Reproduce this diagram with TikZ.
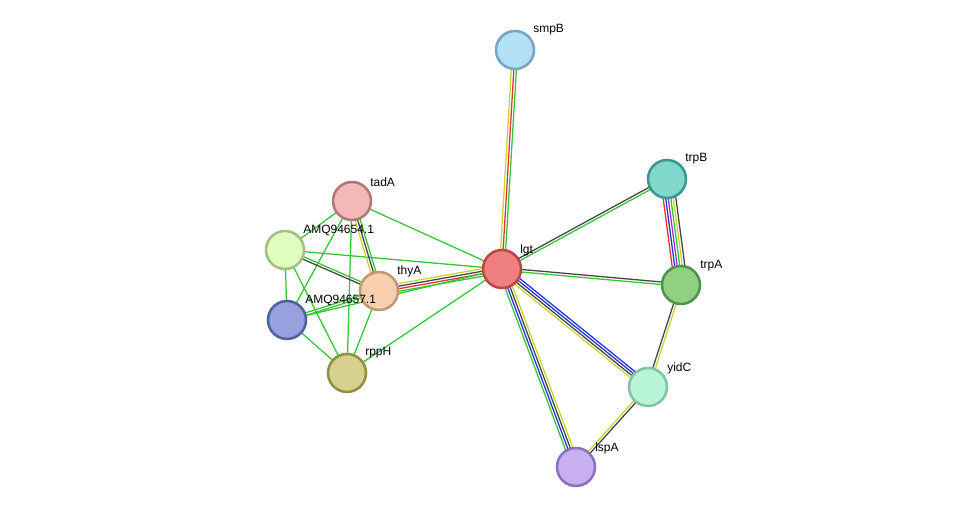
\documentclass[tikz,border=0pt]{standalone}
\usepackage{fontspec}
\setmainfont{Liberation Sans}
\usetikzlibrary{calc}
\definecolor{lkgreen}{HTML}{33C633}
\definecolor{lkred}{HTML}{E8302C}
\definecolor{lkyellow}{HTML}{C8D42E}
\definecolor{lkblack}{HTML}{444444}
\definecolor{lkblue}{HTML}{2233DD}
\definecolor{lkpurple}{HTML}{9933CC}
\tikzset{
  prot/.style={circle, minimum size=28.5pt, inner sep=0pt, line width=1.9pt},
  lab/.style={anchor=west, font=\fontsize{9}{10}\selectfont, inner sep=0pt},
}
% parallel coloured links between two proteins
\newcommand\lnk[4]{%
  \foreach \c [count=\k] in {#4} {
    \pgfmathsetmacro{\off}{(\k-(#3+1)/2)*1.9}
    \draw[\c, line width=0.95pt] ($(#1)!\off pt!90:(#2)$) -- ($(#2)!\off pt!-90:(#1)$);
  }}
\begin{document}
\begin{tikzpicture}[x=0.75pt, y=-0.75pt]
  \useasboundingbox (0,0) rectangle (976,513);
  % coordinates of the proteins
  \coordinate (smpB) at (515,50);
  \coordinate (trpB) at (667,179);
  \coordinate (lgt)  at (502,269);
  \coordinate (trpA) at (681,285);
  \coordinate (yidC) at (648,387);
  \coordinate (lspA) at (576,467);
  \coordinate (tadA) at (352,201);
  \coordinate (amqA) at (285,250);
  \coordinate (thyA) at (379,291);
  \coordinate (amqB) at (287,320);
  \coordinate (rppH) at (347,373);

  % links
  \lnk{lgt}{smpB}{3}{lkgreen,lkred,lkyellow}
  \lnk{lgt}{trpB}{2}{lkgreen,lkblack}
  \lnk{lgt}{trpA}{2}{lkgreen,lkblack}
  \lnk{lgt}{yidC}{4}{lkyellow,lkblack,lkblue,lkblue}
  \lnk{lgt}{lspA}{4}{lkgreen,lkblue,lkblack,lkyellow}
  \lnk{trpB}{trpA}{6}{lkred,lkblue,lkpurple,lkgreen,lkyellow,lkblack}
  \lnk{trpA}{yidC}{2}{lkblack,lkyellow}
  \lnk{yidC}{lspA}{2}{lkyellow,lkblack}
  \lnk{lgt}{thyA}{4}{lkyellow,lkblack,lkred,lkgreen}
  \lnk{lgt}{tadA}{1}{lkgreen}
  \lnk{lgt}{amqA}{1}{lkgreen}
  \lnk{lgt}{amqB}{1}{lkgreen}
  \lnk{lgt}{rppH}{1}{lkgreen}
  \lnk{tadA}{thyA}{3}{lkyellow,lkblack,lkgreen}
  \lnk{tadA}{amqA}{1}{lkgreen}
  \lnk{tadA}{amqB}{1}{lkgreen}
  \lnk{tadA}{rppH}{1}{lkgreen}
  \lnk{amqA}{thyA}{2}{lkblack,lkgreen}
  \lnk{amqA}{amqB}{1}{lkgreen}
  \lnk{amqA}{rppH}{1}{lkgreen}
  \lnk{amqB}{thyA}{2}{lkgreen,lkgreen}
  \lnk{amqB}{rppH}{1}{lkgreen}
  \lnk{thyA}{rppH}{1}{lkgreen}

  % proteins
  \node[prot, fill={rgb,255:red,179;green,224;blue,245}, draw={rgb,255:red,120;green,165;blue,195}] (nsmpB) at (smpB) {};
  \node[prot, fill={rgb,255:red,128;green,216;blue,204}, draw={rgb,255:red,62;green,150;blue,140}] (ntrpB) at (trpB) {};
  \node[prot, fill={rgb,255:red,240;green,128;blue,128}, draw={rgb,255:red,190;green,70;blue,70}] (nlgt) at (lgt) {};
  \node[prot, fill={rgb,255:red,144;green,208;blue,128}, draw={rgb,255:red,78;green,148;blue,78}] (ntrpA) at (trpA) {};
  \node[prot, fill={rgb,255:red,184;green,245;blue,216}, draw={rgb,255:red,128;green,196;blue,160}] (nyidC) at (yidC) {};
  \node[prot, fill={rgb,255:red,200;green,176;blue,240}, draw={rgb,255:red,138;green,112;blue,192}] (nlspA) at (lspA) {};
  \node[prot, fill={rgb,255:red,244;green,184;blue,184}, draw={rgb,255:red,176;green,120;blue,120}] (ntadA) at (tadA) {};
  \node[prot, fill={rgb,255:red,224;green,255;blue,192}, draw={rgb,255:red,160;green,192;blue,128}] (namqA) at (amqA) {};
  \node[prot, fill={rgb,255:red,248;green,208;blue,176}, draw={rgb,255:red,192;green,152;blue,112}] (nthyA) at (thyA) {};
  \node[prot, fill={rgb,255:red,152;green,160;blue,224}, draw={rgb,255:red,80;green,96;blue,160}] (namqB) at (amqB) {};
  \node[prot, fill={rgb,255:red,216;green,208;blue,144}, draw={rgb,255:red,144;green,144;blue,64}] (nrppH) at (rppH) {};

  % labels
  \node[lab] (tsmpB) at (533,30) {smpB};
  \node[lab] (ttrpB) at (685,159) {trpB};
  \node[lab] (tlgt)  at (520,250) {lgt};
  \node[lab] (ttrpA) at (700,266) {trpA};
  \node[lab] (tyidC) at (667,368) {yidC};
  \node[lab] (tlspA) at (595,448) {lspA};
  \node[lab] (ttadA) at (370,182) {tadA};
  \node[lab] (tamqA) at (303,230) {AMQ94654.1};
  \node[lab] (tthyA) at (397,271) {thyA};
  \node[lab] (tamqB) at (305,300) {AMQ94657.1};
  \node[lab] (trppH) at (365,353) {rppH};
\end{tikzpicture}
\end{document}
